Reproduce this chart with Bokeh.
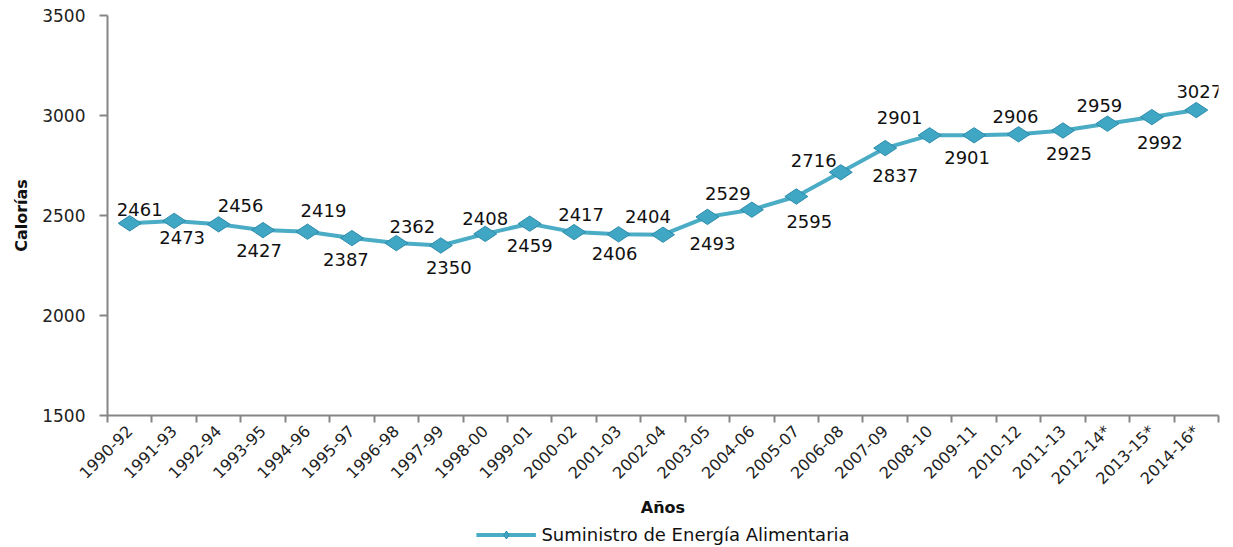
import math
from bokeh.plotting import figure
from bokeh.layouts import column
from bokeh.models import (Range1d, FixedTicker, ColumnDataSource, Legend, LegendItem)
from bokeh.core.properties import value
from bokeh.embed import file_html
from bokeh.resources import INLINE

periods = ["1990-92", "1991-93", "1992-94", "1993-95", "1994-96", "1995-97", "1996-98",
           "1997-99", "1998-00", "1999-01", "2000-02", "2001-03", "2002-04", "2003-05",
           "2004-06", "2005-07", "2006-08", "2007-09", "2008-10", "2009-11", "2010-12",
           "2011-13", "2012-14*", "2013-15*", "2014-16*"]
calories = [2461, 2473, 2456, 2427, 2419, 2387, 2362, 2350, 2408, 2459, 2417, 2406, 2404,
            2493, 2529, 2595, 2716, 2837, 2901, 2901, 2906, 2925, 2959, 2992, 3027]
y_ticks = [1500, 2000, 2500, 3000, 3500]
series_name = "Suministro de Energía Alimentaria"

# label nudges in screen pixels (style only)
label_dx = [10, 8, 22, -4, 16, -6, 16, 8, 0, 0, 7, -4, -15, 5, -24, 13, -27, 10, -30, -7,
            -3, 6, -8, 8, 3]
label_dy = [-14, 17, -19, 20, -21, 21, -17, 22, -15, 22, -18, 19, -18, 27, -16, 25, -12, 27,
            -18, 22, -18, 23, -18, 25, -19]

FONT = "DejaVu Sans"
LINE_COLOR = "#4bacc6"
AXIS_COLOR = "#868686"

xs = list(range(len(periods)))
src = ColumnDataSource(dict(x=xs, y=calories, lab=[str(v) for v in calories],
                            dx=label_dx, dy=label_dy))

p = figure(frame_width=1111, frame_height=400, output_backend="svg", toolbar_location=None,
           x_range=Range1d(-0.5, len(periods) - 0.5), y_range=Range1d(1500, 3500),
           min_border_left=107, min_border_right=8, min_border_top=15, min_border_bottom=0)
p.outline_line_color = None
p.xgrid.visible = False
p.ygrid.visible = False
p.background_fill_color = "white"
p.border_fill_color = "white"

line_kw = dict(line_color=LINE_COLOR, line_width=4)
mark_kw = dict(marker="diamond", size=23, angle=math.pi / 2,
               fill_color="#3fa6c4", line_color="#2c8cab", line_width=1)

p.line("x", "y", source=src, **line_kw)
p.scatter("x", "y", source=src, **mark_kw)

p.text("x", "y", text="lab", source=src, x_offset="dx", y_offset="dy",
       text_align="center", text_baseline="middle", text_font=value(FONT),
       text_font_size="18px", text_color="#111111")

# x axis
xa = p.xaxis[0]
xa.ticker = FixedTicker(ticks=xs, minor_ticks=[i - 0.5 for i in range(len(periods) + 1)])
xa.major_label_overrides = {i: s for i, s in zip(xs, periods)}
xa.major_label_orientation = math.pi / 4
xa.major_tick_line_color = None
xa.minor_tick_line_color = AXIS_COLOR
xa.minor_tick_line_width = 2
xa.minor_tick_in = 0
xa.minor_tick_out = 7
xa.axis_line_color = AXIS_COLOR
xa.axis_line_width = 2
xa.major_label_text_font = FONT
xa.major_label_text_font_size = "16px"
xa.major_label_text_color = "#222222"
xa.major_label_standoff = 6
xa.axis_label = "Años"
xa.axis_label_text_font = FONT
xa.axis_label_text_font_style = "bold"
xa.axis_label_text_font_size = "16px"
xa.axis_label_text_color = "#111111"
xa.axis_label_standoff = 0

# y axis
ya = p.yaxis[0]
ya.ticker = FixedTicker(ticks=y_ticks)
ya.minor_tick_line_color = None
ya.major_tick_in = 0
ya.major_tick_out = 8
ya.major_tick_line_color = AXIS_COLOR
ya.major_tick_line_width = 2
ya.axis_line_color = AXIS_COLOR
ya.axis_line_width = 2
ya.major_label_text_font = FONT
ya.major_label_text_font_size = "17px"
ya.major_label_text_color = "#222222"
ya.major_label_standoff = 14
ya.axis_label = "Calorías"
ya.axis_label_text_font = FONT
ya.axis_label_text_font_style = "bold"
ya.axis_label_text_font_size = "16px"
ya.axis_label_text_color = "#111111"
ya.axis_label_standoff = 8

# separate strip for the legend (same series, drawn out of view)
lg = figure(width=1226, height=30, output_backend="svg", toolbar_location=None,
            x_range=Range1d(1000, 1001), y_range=Range1d(0, 1),
            x_axis_location=None, y_axis_location=None,
            min_border_left=76, min_border_right=0, min_border_top=0, min_border_bottom=0)
lg.outline_line_color = None
lg.xgrid.visible = False
lg.ygrid.visible = False
lg_line = lg.line("x", "y", source=src, **line_kw)
lg_mark = lg.scatter("x", "y", source=src, **mark_kw)
legend = Legend(items=[LegendItem(label=series_name, renderers=[lg_line, lg_mark])],
                location="center", orientation="horizontal",
                border_line_color=None, background_fill_alpha=0,
                glyph_width=60, glyph_height=20, label_text_font=FONT,
                label_text_font_size="18px", label_text_color="#111111",
                padding=1, margin=0, spacing=0, label_standoff=6)
lg.add_layout(legend, "center")

layout = column(p, lg, spacing=0)
open("out.html", "w").write(file_html(layout, INLINE))
